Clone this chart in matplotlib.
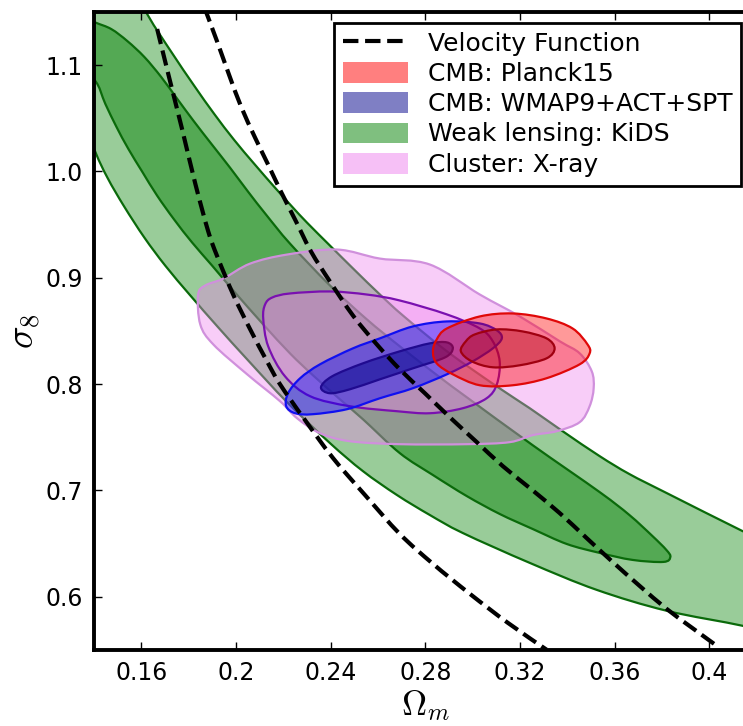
import numpy as np
import matplotlib
matplotlib.use("Agg")
from matplotlib import pyplot as plt
from matplotlib.lines import Line2D
from matplotlib.patches import Patch, PathPatch
from matplotlib.path import Path

# contour outlines (Omega_m, sigma_8)
kids_outer_om = [0.150, 0.1625, 0.1727, 0.1824, 0.1908, 0.1992, 0.2077, 0.2161, 0.2237, 0.2300, 0.2397, 0.2503, 0.2608,
                 0.2705, 0.2891, 0.3101, 0.3241, 0.3380, 0.3536, 0.3662, 0.3819, 0.4139, 0.430,
                 0.430, 0.4139, 0.3819, 0.3523, 0.3241, 0.2958, 0.2819, 0.2680, 0.2536, 0.2397, 0.2216, 0.2047,
                 0.1925, 0.1807, 0.1701, 0.1613, 0.1528, 0.1457, 0.1402, 0.130, 0.130]
kids_outer_s8 = [1.200, 1.1478, 1.1122, 1.0803, 1.0540, 1.0296, 1.0071, 0.9856, 0.9668, 0.9518, 0.9302, 0.9068, 0.8842,
                 0.8645, 0.8308, 0.7979, 0.7773, 0.7557, 0.7323, 0.7154, 0.6976, 0.6619, 0.645,
                 0.563, 0.5728, 0.5869, 0.6066, 0.6319, 0.6600, 0.6769, 0.6957, 0.7182, 0.7445, 0.7829, 0.8233,
                 0.8533, 0.8833, 0.9114, 0.9377, 0.9668, 0.9940, 1.0203, 1.080, 1.200]

kids_inner_om = [0.130, 0.1402, 0.1473, 0.1541, 0.1613, 0.1684, 0.1752, 0.1824, 0.1899, 0.1975, 0.2051, 0.2127, 0.2228,
                 0.2397, 0.2553, 0.2692, 0.2861, 0.2975, 0.3253, 0.3536, 0.3662, 0.3759, 0.3818, 0.3835,
                 0.3806, 0.3675, 0.3536, 0.3397, 0.3253, 0.3114, 0.2975, 0.2832, 0.2692, 0.2536, 0.2439, 0.2325,
                 0.2228, 0.2115, 0.1992, 0.1899, 0.1815, 0.1739, 0.1667, 0.1604, 0.1545, 0.1495, 0.1448, 0.1402, 0.130]
kids_inner_s8 = [1.150, 1.1403, 1.1338, 1.1225, 1.1075, 1.0887, 1.0681, 1.0465, 1.0250, 1.0034, 0.9809, 0.9593, 0.9321,
                 0.8927, 0.8608, 0.8355, 0.8064, 0.7876, 0.7426, 0.6985, 0.6769, 0.6572, 0.6441, 0.6375,
                 0.6328, 0.6347, 0.6413, 0.6497, 0.6638, 0.6779, 0.6947, 0.7145, 0.7351, 0.7670, 0.7857, 0.8083,
                 0.8289, 0.8561, 0.8871, 0.9114, 0.9330, 0.9546, 0.9771, 0.9996, 1.0212, 1.0418, 1.0634, 1.0859, 1.100]

xray_outer_om = [0.1840, 0.1849, 0.1904, 0.2047, 0.2186, 0.2258, 0.2355, 0.2481, 0.2692, 0.2975, 0.3156, 0.3253, 0.3355,
                 0.3452, 0.3494, 0.3511, 0.3503, 0.3452, 0.3368, 0.3199, 0.3030, 0.2819, 0.2608, 0.2427, 0.2216,
                 0.2060, 0.1946, 0.1870]
xray_outer_s8 = [0.8842, 0.8561, 0.8373, 0.8092, 0.7839, 0.7679, 0.7538, 0.7463, 0.7435, 0.7435, 0.7454, 0.7520, 0.7557,
                 0.7642, 0.7792, 0.7961, 0.8120, 0.8289, 0.8402, 0.8636, 0.8842, 0.9124, 0.9180, 0.9265, 0.9218,
                 0.9133, 0.8992, 0.8927]

xray_inner_om = [0.2115, 0.2123, 0.2153, 0.2228, 0.2397, 0.2553, 0.2692, 0.2891, 0.3030, 0.3085, 0.3114, 0.3102, 0.3059,
                 0.2958, 0.2819, 0.2680, 0.2481, 0.2313, 0.2207, 0.2136]
xray_inner_s8 = [0.8617, 0.8749, 0.8814, 0.8852, 0.8871, 0.8842, 0.8786, 0.8655, 0.8523, 0.8402, 0.8214, 0.7998, 0.7867,
                 0.7773, 0.7726, 0.7745, 0.7792, 0.7886, 0.8073, 0.8355]

wmap_outer_om = [0.2212, 0.2220, 0.2271, 0.2355, 0.2494, 0.2608, 0.2747, 0.2891, 0.3030, 0.3102, 0.3123, 0.3085, 0.3000,
                 0.2891, 0.2747, 0.2608, 0.2469, 0.2325, 0.2250]
wmap_outer_s8 = [0.7792, 0.7914, 0.8055, 0.8186, 0.8336, 0.8430, 0.8542, 0.8589, 0.8570, 0.8505, 0.8430, 0.8336, 0.8214,
                 0.8092, 0.7961, 0.7867, 0.7764, 0.7717, 0.7726]

wmap_inner_om = [0.2359, 0.2406, 0.2536, 0.2692, 0.2819, 0.2891, 0.2916, 0.2883, 0.2747, 0.2608, 0.2481, 0.2397]
wmap_inner_s8 = [0.7970, 0.8073, 0.8195, 0.8308, 0.8383, 0.8392, 0.8336, 0.8251, 0.8148, 0.8045, 0.7951, 0.7914]

planck_outer_om = [0.2832, 0.2848, 0.2891, 0.3030, 0.3169, 0.3312, 0.3422, 0.3485, 0.3494, 0.3452, 0.3312, 0.3169, 0.3030,
                   0.2916, 0.2848]
planck_outer_s8 = [0.8308, 0.8420, 0.8523, 0.8636, 0.8664, 0.8617, 0.8523, 0.8373, 0.8289, 0.8186, 0.8055, 0.7989, 0.7989,
                   0.8092, 0.8195]

planck_inner_om = [0.2950, 0.2971, 0.3009, 0.3102, 0.3211, 0.3312, 0.3346, 0.3312, 0.3199, 0.3085, 0.2996]
planck_inner_s8 = [0.8308, 0.8402, 0.8467, 0.8514, 0.8495, 0.8430, 0.8336, 0.8242, 0.8177, 0.8158, 0.8214]

# velocity function bounds
vf_left_om = [0.1667, 0.1718, 0.1773, 0.1828, 0.1883, 0.1921, 0.1988, 0.2060, 0.2131, 0.2186, 0.2292, 0.2410, 0.2545,
              0.2692, 0.2832, 0.2988, 0.3148, 0.3312]
vf_left_s8 = [1.1338, 1.0878, 1.0390, 0.9884, 0.9433, 0.9199, 0.8842, 0.8514, 0.8214, 0.7998, 0.7660, 0.7304, 0.6957,
              0.6591, 0.6310, 0.6028, 0.5756, 0.5503]

vf_right_om = [0.1866, 0.1921, 0.1971, 0.2022, 0.2081, 0.2136, 0.2190, 0.2254, 0.2317, 0.2397, 0.2494, 0.2591, 0.2692,
               0.2798, 0.2903, 0.3013, 0.3127, 0.3241, 0.3367, 0.3481, 0.3591, 0.3705, 0.3819, 0.3932, 0.4042]
vf_right_s8 = [1.1544, 1.1216, 1.0906, 1.0606, 1.0315, 1.0062, 0.9809, 0.9527, 0.9246, 0.8964, 0.8645, 0.8383, 0.8139,
               0.7914, 0.7689, 0.7463, 0.7229, 0.7023, 0.6788, 0.6553, 0.6328, 0.6103, 0.5887, 0.5700, 0.5522]

xticks = [0.16, 0.2, 0.24, 0.28, 0.32, 0.36, 0.4]
xtick_labels = ["0.16", "0.2", "0.24", "0.28", "0.32", "0.36", "0.4"]
yticks = [0.6, 0.7, 0.8, 0.9, 1.0, 1.1]

plt.rcParams['mathtext.fontset'] = 'cm'

fig = plt.figure(figsize=(7.43, 7.26), dpi=100)
ax = fig.add_axes([0.1265, 0.1047, 0.892, 0.879])


def smooth_path(xs, ys, closed=True):
    # smooth curve through the read points (Catmull-Rom as cubic Bezier)
    p = np.column_stack([xs, ys])
    n = len(p)
    if closed:
        ext = np.vstack([p[-1], p, p[0], p[1]])
        nseg = n
    else:
        ext = np.vstack([p[0], p, p[-1]])
        nseg = n - 1
    verts = [p[0]]
    codes = [Path.MOVETO]
    for i in range(nseg):
        p0, p1, p2, p3 = ext[i], ext[i + 1], ext[i + 2], ext[i + 3]
        verts += [p1 + (p2 - p0) / 6, p2 - (p3 - p1) / 6, p2]
        codes += [Path.CURVE4] * 3
    if closed:
        verts.append(p[0])
        codes.append(Path.CLOSEPOLY)
    return Path(verts, codes)


def contour(om, s8, color, edge, alpha=0.4, lw=1.6):
    path = smooth_path(om, s8)
    ax.add_patch(PathPatch(path, facecolor=color, alpha=alpha, edgecolor='none'))
    ax.add_patch(PathPatch(path, facecolor='none', edgecolor=edge, lw=lw))


contour(kids_outer_om, kids_outer_s8, 'green', '#0a6a0a')
contour(kids_inner_om, kids_inner_s8, 'green', '#0a6a0a', alpha=0.45)
contour(xray_outer_om, xray_outer_s8, 'violet', '#d090dc')
contour(xray_inner_om, xray_inner_s8, 'violet', '#7a10b0')
contour(wmap_outer_om, wmap_outer_s8, 'blue', '#1010f0')
contour(wmap_inner_om, wmap_inner_s8, '#00008b', '#200a90', alpha=0.5)
contour(planck_outer_om, planck_outer_s8, 'red', '#e00808')
contour(planck_inner_om, planck_inner_s8, '#b00010', '#a00010')

for om, s8 in [(vf_left_om, vf_left_s8), (vf_right_om, vf_right_s8)]:
    ax.add_patch(PathPatch(smooth_path(om, s8, closed=False), facecolor='none',
                           edgecolor='k', lw=3, ls='--'))

ax.set_xlim(0.14, 0.42)
ax.set_ylim(0.55, 1.15)
ax.set_xticks(xticks)
ax.set_xticklabels(xtick_labels)
ax.set_yticks(yticks)
ax.tick_params(direction='in', length=6, width=1, top=True, right=True, labelsize=17, pad=8)
for sp in ax.spines.values():
    sp.set_linewidth(2.8)

ax.set_xlabel(r'$\Omega_m$', fontsize=25, labelpad=2)
ax.set_ylabel(r'$\sigma_8$', fontsize=27, labelpad=2)

handles = [Line2D([], [], color='k', ls='--', lw=3),
           Patch(facecolor='red', alpha=0.5, edgecolor='none'),
           Patch(facecolor='#00008b', alpha=0.5, edgecolor='none'),
           Patch(facecolor='green', alpha=0.5, edgecolor='none'),
           Patch(facecolor='violet', alpha=0.5, edgecolor='none')]
labels = ["Velocity Function", "CMB: Planck15", "CMB: WMAP9+ACT+SPT", "Weak lensing: KiDS", "Cluster: X-ray"]
leg = ax.legend(handles, labels, loc='upper right', bbox_to_anchor=(741 / 743, 1 - 23 / 726),
                bbox_transform=fig.transFigure, borderaxespad=0, fontsize=18, fancybox=False,
                framealpha=1, edgecolor='k', handlelength=2.6, handleheight=0.9, handletextpad=0.8,
                labelspacing=0.25, borderpad=0.35)
leg.get_frame().set_linewidth(2)

fig.savefig("out.png", dpi=100)
